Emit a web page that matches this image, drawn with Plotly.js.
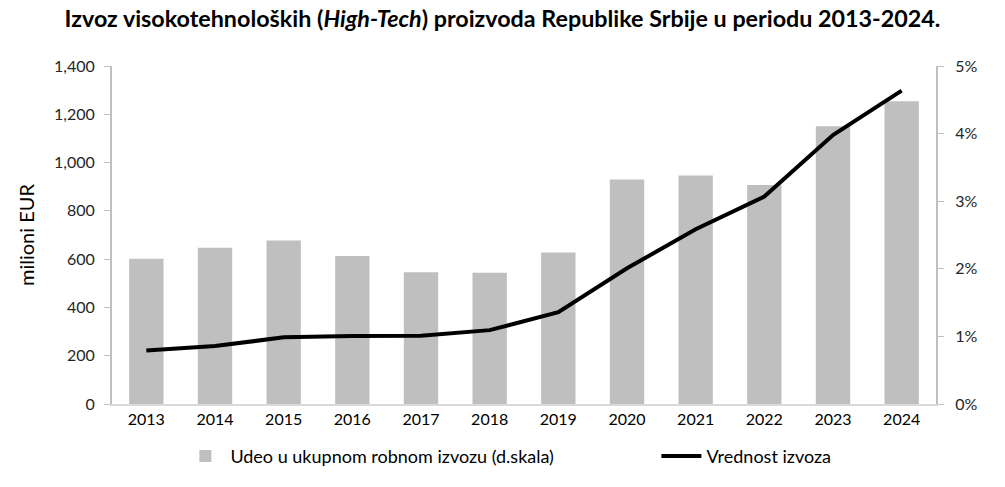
<!DOCTYPE html>
<html>
<head>
<meta charset="utf-8">
<script src="https://cdn.plot.ly/plotly-3.0.1.min.js"></script>
<style>html,body{margin:0;padding:0;background:#fff;}#chart{width:1005px;height:487px;}</style>
</head>
<body>
<div id="chart"></div>
<script>
const years = ['2013','2014','2015','2016','2017','2018','2019','2020','2021','2022','2023','2024'];
const sharePct = [2.15, 2.31, 2.42, 2.19, 1.95, 1.94, 2.24, 3.32, 3.38, 3.24, 4.11, 4.48];
const exportValue = [222, 240, 276, 282, 283, 306, 380, 562, 724, 859, 1114, 1298];
const leftTicks = [0, 200, 400, 600, 800, 1000, 1200, 1400];
const rightTicks = [0, 1, 2, 3, 4, 5];
const rightTickText = rightTicks.map(v => v + '%');

const fontFam = 'Lato, Open Sans, sans-serif';

const traces = [
  {
    type: 'bar', x: years, y: sharePct, yaxis: 'y',
    name: 'Udeo u ukupnom robnom izvozu (d.skala)',
    marker: {color: '#bfbfbf'}, width: 0.5, legendwidth: 421
  },
  {
    type: 'scatter', mode: 'lines', x: years, y: exportValue, yaxis: 'y2',
    name: 'Vrednost izvoza',
    line: {color: '#000000', width: 4}, legendwidth: 140
  }
];

const layout = {
  width: 1005, height: 487,
  margin: {l: 112, r: 69, t: 66, b: 83},
  paper_bgcolor: '#fff', plot_bgcolor: '#fff',
  font: {family: fontFam, size: 16, color: '#262626'},
  title: {
    text: 'Izvoz visokotehnoloških (<i>High-Tech</i>) proizvoda Republike Srbije u periodu 2013-2024.',
    font: {family: fontFam, size: 23.3, color: '#000', weight: 'bold'},
    x: 0.5, xanchor: 'center', y: 0.962, yanchor: 'middle'
  },
  showlegend: true,
  legend: {
    orientation: 'h', x: 0.083, xanchor: 'left', y: -0.1, yanchor: 'top',
    font: {family: fontFam, size: 18, color: '#000'},
    traceorder: 'normal', itemwidth: 40, entrywidthmode: 'pixels'
  },
  xaxis: {
    type: 'category', showgrid: false, showline: true, linecolor: '#d9d9d9', linewidth: 2,
    ticks: '', tickfont: {family: fontFam, size: 16, color: '#000'}
  },
  yaxis: {
    side: 'right', range: [0, 5], tickvals: rightTicks, ticktext: rightTickText,
    showgrid: false, zeroline: false, showline: true, linecolor: '#bfbfbf', linewidth: 2,
    ticks: 'outside', ticklen: 6, tickcolor: '#bfbfbf', ticklabelstandoff: 8,
    tickfont: {family: fontFam, size: 16, color: '#262626'}
  },
  yaxis2: {
    overlaying: 'y', side: 'left', range: [0, 1400], tickvals: leftTicks, tickformat: ',d',
    showgrid: false, zeroline: false,
    showline: true, linecolor: '#bfbfbf', linewidth: 2, ticks: 'outside', ticklen: 6, tickcolor: '#bfbfbf',
    ticklabelstandoff: 6,
    tickfont: {family: fontFam, size: 16, color: '#262626'},
    title: {text: 'milioni EUR', font: {family: fontFam, size: 20, color: '#000'}, standoff: 14}
  }
};

Plotly.newPlot('chart', traces, layout, {displayModeBar: false, staticPlot: true});
</script>
</body>
</html>
